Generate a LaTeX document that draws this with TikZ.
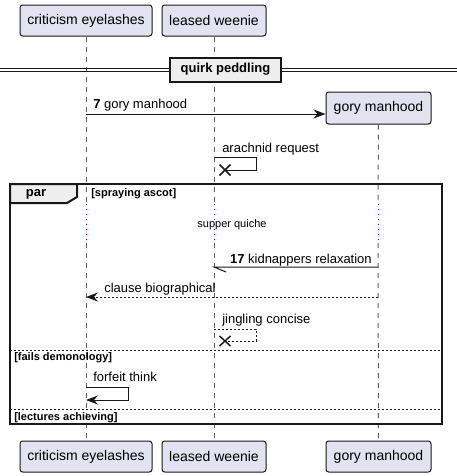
\documentclass[tikz,border=0pt]{standalone}
\usepackage{fontspec}
\setmainfont{Liberation Sans}
\usetikzlibrary{arrows.meta,calc}
\definecolor{partfill}{HTML}{E2E2F0}
\definecolor{linec}{HTML}{181818}
\definecolor{delayc}{HTML}{A80036}
\definecolor{grpfill}{HTML}{EEEEEE}
\tikzset{
  part/.style={draw=linec, fill=partfill, line width=0.75pt, rounded corners=2pt, minimum height=23.25pt, inner sep=0pt, font=\fontsize{10.5}{12}\selectfont},
  life/.style={draw=linec!70, line width=0.75pt, dash pattern=on 3.75pt off 3.75pt},
  delayline/.style={draw=delayc, line width=0.75pt, dash pattern=on 0.75pt off 3pt},
  msg/.style={draw=linec, line width=0.75pt},
  dmsg/.style={draw=linec, line width=0.75pt, dash pattern=on 1.5pt off 1.5pt},
  tip/.style={-{Stealth[length=9pt,width=6.75pt,inset=3pt]}},
  mlabel/.style={font=\fontsize{9.75}{11}\selectfont, inner sep=0pt},
  glabel/.style={font=\bfseries\fontsize{8.25}{10}\selectfont, inner sep=0pt},
  cross/.style={draw=linec, line width=1.1pt},
}
\begin{document}
\begin{tikzpicture}[x=0.75pt,y=-0.75pt]
\useasboundingbox (0,0) rectangle (457,476);
% participants
\node[part, minimum width=99pt] (a1) at (86,20.5) {criticism eyelashes};
\node[part, minimum width=78pt] (b1) at (214,20.5) {leased weenie};
\node[part, minimum width=78.75pt, minimum height=24pt] (c1) at (378.5,108) {gory manhood};
\node[part, minimum width=99pt] (a2) at (86,456.5) {criticism eyelashes};
\node[part, minimum width=78pt] (b2) at (214,456.5) {leased weenie};
\node[part, minimum width=78.75pt] (c2) at (378.5,456.5) {gory manhood};
% delay coordinates
\coordinate (ad1) at (86,204); \coordinate (ad2) at (86,243);
\coordinate (bd1) at (214,204); \coordinate (bd2) at (214,243);
\coordinate (cd1) at (378,204); \coordinate (cd2) at (378,243);
% lifelines
\draw[life] (a1.south) -- (ad1); \draw[delayline] (ad1) -- (ad2); \draw[life] (ad2) -- (a2.north);
\draw[life] (b1.south) -- (bd1); \draw[delayline] (bd1) -- (bd2); \draw[life] (bd2) -- (b2.north);
\draw[life] (c1.south) -- (cd1); \draw[delayline] (cd1) -- (cd2); \draw[life] (cd2) -- (c2.north);
% divider
\draw[linec, line width=0.75pt] (0,68) -- (457,68) (0,71.5) -- (457,71.5);
\node[draw=linec, fill=grpfill, line width=1.5pt, minimum width=83pt, minimum height=18pt, inner sep=0pt, font=\bfseries\fontsize{9.75}{11}\selectfont] (div) at (225.5,69.5) {quirk peddling};
% message 7
\coordinate (m7s) at (86,114);
\draw[msg, tip] (m7s) -- (c1.west |- m7s);
\node[mlabel, anchor=base west] (l7) at (93,108) {\textbf{7} gory manhood};
% arachnid request
\coordinate (ar1) at (214,157); \coordinate (ar2) at (256,157); \coordinate (ar3) at (256,170); \coordinate (ar4) at (225,170);
\draw[msg] (ar1) -- (ar2) -- (ar3) -- (ar4);
\draw[cross] ($(ar4)+(-5.5,-5.5)$) -- ($(ar4)+(5.5,5.5)$) ($(ar4)+(-5.5,5.5)$) -- ($(ar4)+(5.5,-5.5)$);
\node[mlabel, anchor=base west] (lar) at (222,152) {arachnid request};
% par frame
\draw[linec, line width=1.5pt] (10,184) rectangle (442,424);
\draw[linec, line width=1.5pt, fill=grpfill] (10,184) -- (77,184) -- (77,197) -- (67,203) -- (10,203) -- cycle;
\node[font=\bfseries\fontsize{9.75}{11}\selectfont, inner sep=0pt] (par) at (36,194) {par};
\node[glabel, anchor=west] (g1) at (91,194) {[spraying ascot]};
% delay text
\node[font=\fontsize{8.25}{10}\selectfont, inner sep=0pt] (dl) at (232,225) {supper quiche};
% message 17
\coordinate (m17s) at (378,267); \coordinate (m17e) at (214,267); \coordinate (m17h) at (226,272);
\draw[msg] (m17s) -- (m17e) -- (m17h);
\node[mlabel, anchor=base east] (l17) at (372,263) {\textbf{17} kidnappers relaxation};
% clause biographical
\coordinate (cbs) at (378,297); \coordinate (cbe) at (86,297);
\draw[dmsg, tip] (cbs) -- (cbe);
\node[mlabel, anchor=base west] (lcb) at (104,292) {clause biographical};
% jingling concise
\coordinate (j1) at (214,329); \coordinate (j2) at (256,329); \coordinate (j3) at (256,341); \coordinate (j4) at (225,341);
\draw[dmsg] (j1) -- (j2) -- (j3) -- (j4);
\draw[cross] ($(j4)+(-5.5,-5)$) -- ($(j4)+(5.5,5)$) ($(j4)+(-5.5,5)$) -- ($(j4)+(5.5,-5)$);
\node[mlabel, anchor=base west] (lj) at (222,323) {jingling concise};
% else 1
\draw[linec, line width=0.75pt, dash pattern=on 1.5pt off 1.5pt] (10,350) -- (442,350);
\node[glabel, anchor=west] (g2) at (14,358) {[fails demonology]};
% forfeit think
\coordinate (f1) at (86,387); \coordinate (f2) at (128,387); \coordinate (f3) at (128,400); \coordinate (f4) at (86,400);
\draw[msg, tip] (f1) -- (f2) -- (f3) -- (f4);
\node[mlabel, anchor=base west] (lf) at (93,381) {forfeit think};
% else 2
\draw[linec, line width=0.75pt, dash pattern=on 1.5pt off 1.5pt] (10,409) -- (442,409);
\node[glabel, anchor=west] (g3) at (14,418) {[lectures achieving]};
\end{tikzpicture}
\end{document}
